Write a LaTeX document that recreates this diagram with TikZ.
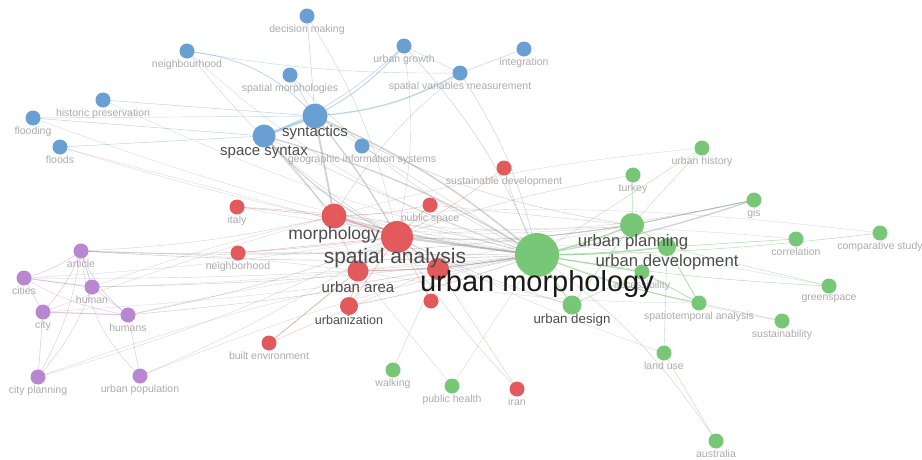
\documentclass[tikz,border=0pt]{standalone}
\usepackage{fontspec}
\setmainfont{Liberation Sans}
\usetikzlibrary{positioning,backgrounds}

\definecolor{vblue}{HTML}{6A9FD4}
\definecolor{vred}{HTML}{E35A5C}
\definecolor{vgreen}{HTML}{78C777}
\definecolor{vpurple}{HTML}{B987CF}

\begin{document}
\begin{tikzpicture}[x=1pt,y=-1pt,
  kw/.style={circle,inner sep=0pt,minimum size=#1},
  bl/.style={kw=#1,fill=vblue},   bl/.default=15pt,
  rd/.style={kw=#1,fill=vred},    rd/.default=15pt,
  gr/.style={kw=#1,fill=vgreen},  gr/.default=15pt,
  pu/.style={kw=#1,fill=vpurple}, pu/.default=15pt,
  lab/.style={font=\fontsize{10.5}{11}\selectfont,text=black!33,inner sep=0.5pt},
  big/.style={font=\fontsize{#1}{#1}\selectfont,text=black!70,inner sep=0pt},
  ln/.style={line width=#1,draw=black!45,draw opacity=0.4},
  lnb/.style={line width=#1,draw=vblue,draw opacity=0.45},
  lnr/.style={line width=#1,draw=vred,draw opacity=0.45},
  lng/.style={line width=#1,draw=vgreen,draw opacity=0.55},
  lnp/.style={line width=#1,draw=vpurple,draw opacity=0.5}]
  \useasboundingbox (0,0) rectangle (922,459);

  % space syntax cluster
  \node[bl,label={[lab]below:decision making}] (dm) at (307,16) {};
  \node[bl,label={[lab]below:neighbourhood}] (nbh) at (187,51) {};
  \node[bl,label={[lab]below:urban growth}] (ug) at (404,46) {};
  \node[bl,label={[lab]below:integration}] (intg) at (524,49) {};
  \node[bl,label={[lab]below:spatial morphologies}] (sm) at (290,75) {};
  \node[bl,label={[lab]below:spatial variables measurement}] (svm) at (460,73) {};
  \node[bl,label={[lab]below:historic preservation}] (hp) at (103,100) {};
  \node[bl,label={[lab]below:flooding}] (fld) at (33,118) {};
  \node[bl,label={[lab]below:floods}] (fls) at (60,147) {};
  \node[bl,label={[lab]below:geographic information systems}] (geo) at (362,146) {};
  \node[bl=25pt] (syn) at (315,116) {};
  \node[bl=23pt] (ss) at (264,136) {};

  % spatial analysis cluster
  \node[rd,label={[lab]below:sustainable development}] (sd) at (504,168) {};
  \node[rd,label={[lab]below:italy}] (ita) at (237,207) {};
  \node[rd,label={[lab]below:public space}] (ps) at (430,205) {};
  \node[rd,label={[lab]below:neighborhood}] (nbd) at (238,253) {};
  \node[rd,label={[lab]below:built environment}] (bev) at (269,343) {};
  \node[rd,label={[lab]below:iran}] (iran) at (517,389) {};
  \node[rd=25pt] (mo) at (334,216) {};
  \node[rd=32pt] (sa) at (397,237) {};
  \node[rd=21pt] (ua) at (358,271) {};
  \node[rd=22pt] (ub) at (438,269) {};
  \node[rd=18pt] (urbz) at (349,306) {};
  \node[rd=15pt] (rb) at (431,301) {};

  % urban morphology cluster
  \node[gr,label={[lab]below:urban history}] (uh) at (702,148) {};
  \node[gr,label={[lab]below:turkey}] (tur) at (633,175) {};
  \node[gr,label={[lab]below:gis}] (gis) at (754,200) {};
  \node[gr,label={[lab]below:correlation}] (cor) at (796,239) {};
  \node[gr,label={[lab]below:comparative study}] (com) at (880,233) {};
  \node[gr,label={[lab]below:greenspace}] (gs) at (829,286) {};
  \node[gr,label={[lab]below:sustainability}] (sus) at (782,321) {};
  \node[gr,label={[lab]below:spatiotemporal analysis}] (sta) at (699,303) {};
  \node[gr,label={[lab]below:land use}] (lu) at (664,353) {};
  \node[gr,label={[lab]below:australia}] (aus) at (716,441) {};
  \node[gr,label={[lab]below:walking}] (wlk) at (393,370) {};
  \node[gr,label={[lab]below:public health}] (ph) at (452,386) {};
  \node[gr,label={[lab]below:accessibility}] (acc) at (642,272) {};
  \node[gr=18pt] (ud) at (667,247) {};
  \node[gr=24pt] (up) at (632,225) {};
  \node[gr=19pt] (udes) at (572,305) {};
  \node[gr=44pt] (um) at (537,255) {};

  % city cluster
  \node[pu,label={[lab]below:article}] (art) at (81,251) {};
  \node[pu,label={[lab]below:cities}] (cit) at (24,278) {};
  \node[pu,label={[lab]below:human}] (hum) at (92,287) {};
  \node[pu,label={[lab]below:city}] (cty) at (43,312) {};
  \node[pu,label={[lab]below:humans}] (hms) at (128,315) {};
  \node[pu,label={[lab]below:city planning}] (cp) at (38,377) {};
  \node[pu,label={[lab]below:urban population}] (upop) at (140,376) {};

  \begin{scope}[on background layer]
    \foreach \a/\b/\w/\c in {um/sa/2.0/0, um/mo/1.4/4, um/syn/1.5/-8, um/ss/1.3/-8,
      um/ua/0.9/4, um/urbz/0.7/4, um/art/0.6/3, um/hum/0.5/3, um/cit/0.4/3,
      um/hms/0.5/3, um/nbd/0.5/0, um/ita/0.5/-6, um/gis/1.3/-4, um/sd/0.5/5,
      um/svm/0.5/-10, um/ug/0.5/-10, um/aus/0.4/10, um/ub/0.7/0, syn/mo/1.8/0,
      syn/sa/1.3/5, ss/sa/1.1/-10, ss/mo/0.9/0, sa/up/0.9/-6, sa/art/0.5/5,
      sa/hms/0.5/5, mo/art/0.4/5, sa/cp/0.3/5, sa/upop/0.3/5, ss/ua/0.5/10,
      nbh/sa/0.4/-10, fld/um/0.3/-5, fls/sa/0.3/0, hp/um/0.3/-5, ug/sa/0.4/10,
      svm/mo/0.4/-10, dm/sa/0.4/10, sm/um/0.4/-10, geo/um/0.4/0, tur/sa/0.4/-5,
      uh/mo/0.3/-5, up/gis/1.0/0, mo/gis/0.4/-10, iran/sa/0.4/5, ps/up/0.4/0,
      wlk/ub/0.4/0, bev/ua/0.3/0, ph/ua/0.3/0, udes/sa/0.5/5, sta/ua/0.3/5,
      cor/sa/0.3/-5, gs/sa/0.3/-5, com/mo/0.3/-5, sus/um/0.3/5, art/up/0.3/-5,
      hum/up/0.3/-5, cit/sa/0.3/-3, cty/um/0.3/-3, nbh/um/0.3/-12, ita/up/0.3/-8,
      art/ua/0.3/3, hms/ua/0.3/2, hum/mo/0.3/3, cp/um/0.3/6, upop/um/0.3/5,
      cty/mo/0.3/2, nbd/up/0.3/-4, fls/um/0.3/-4, bev/sa/0.3/0, ph/um/0.3/0,
      lu/sa/0.3/4, udes/mo/0.3/6, syn/up/0.5/-10, ss/um/0.5/-4}
      \draw[ln=\w] (\a.center) to[bend left=\c] (\b.center);
    \foreach \a/\b/\w/\c in {syn/ss/2.6/0, syn/ug/1.0/-10, syn/svm/1.3/-12,
      nbh/syn/0.8/20, sm/syn/0.6/0, dm/syn/0.5/0, ss/ug/0.6/-10, ss/fld/0.5/0,
      ss/fls/0.5/0, syn/hp/0.5/0, syn/fld/0.4/0, nbh/svm/0.4/-5, intg/svm/0.5/0,
      ug/svm/0.4/0, geo/syn/0.4/0}
      \draw[lnb=\w] (\a.center) to[bend left=\c] (\b.center);
    \foreach \a/\b/\w/\c in {mo/sa/1.6/0, sa/ps/0.6/0, sa/ua/0.8/0, sa/ub/1.0/0,
      mo/ita/0.5/0, sa/sd/0.4/-5, ua/urbz/0.6/0, mo/ps/0.4/-5, sa/nbd/0.5/0,
      ub/bev/0.3/0, ua/bev/0.3/0, sa/urbz/0.5/0, sa/rb/0.4/0, ua/ub/0.5/0,
      iran/ub/0.3/0}
      \draw[lnr=\w] (\a.center) to[bend left=\c] (\b.center);
    \foreach \a/\b/\w/\c in {um/up/1.6/-5, um/ud/1.6/-3, um/acc/1.2/0,
      um/udes/1.0/0, um/sta/1.0/-5, up/ud/0.8/0, ud/sta/1.0/0, acc/sta/0.8/0,
      up/tur/0.5/0, ud/cor/0.6/0, um/gs/0.5/-3, sta/sus/0.5/0, um/com/0.5/-3,
      ud/lu/0.4/0, lu/aus/0.4/0, udes/up/0.6/0, uh/up/0.4/0, acc/udes/0.6/0,
      ud/gs/0.4/0, um/uh/0.4/0, up/gis/0.6/0}
      \draw[lng=\w] (\a.center) to[bend left=\c] (\b.center);
    \foreach \a/\b/\w/\c in {art/cit/0.5/10, art/hum/0.8/0, art/hms/0.5/-15,
      art/cty/0.5/10, cit/hum/1.0/0, cit/cty/0.5/0, cty/hms/1.0/0, cty/cp/0.5/0,
      hum/hms/0.5/0, hms/upop/0.5/0, art/upop/0.4/-20, cp/hum/0.4/-10,
      cp/art/0.4/-10, cit/hms/0.4/-10}
      \draw[lnp=\w] (\a.center) to[bend left=\c] (\b.center);
  \end{scope}

  % large labels
  \node[big=15] (tsyn) at (315,133) {syntactics};
  \node[big=15] (tss) at (264,152) {space syntax};
  \node[big=17.5] (tmo) at (334,235) {morphology};
  \node[big=21] (tsa) at (395,258) {spatial analysis};
  \node[big=15] (tua) at (358,287) {urban area};
  \node[big=12.5] (turbz) at (349,320) {urbanization};
  \node[big=16.7] (tup) at (633,242) {urban planning};
  \node[big=16.7] (tud) at (667,262) {urban development};
  \node[big=13.3] (tudes) at (572,320) {urban design};
  \node[big=29,text=black!90] (tum) at (537,284) {urban morphology};
\end{tikzpicture}
\end{document}
